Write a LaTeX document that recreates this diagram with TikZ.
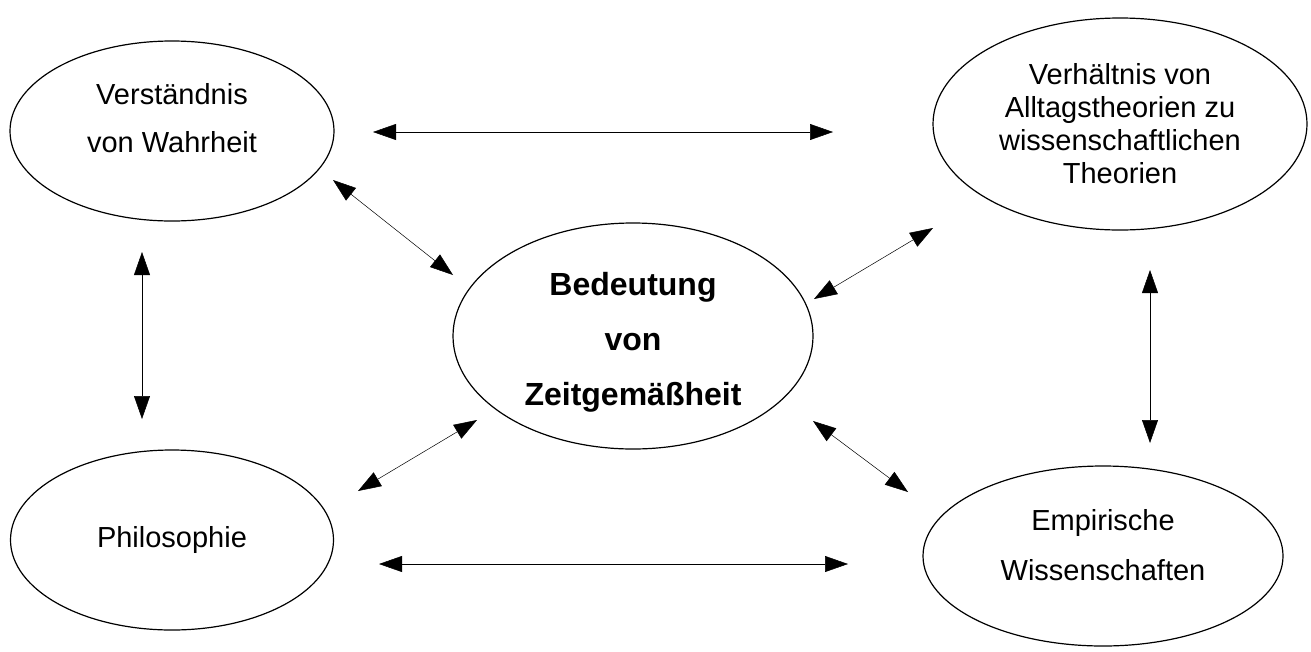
\documentclass[tikz,border=0pt]{standalone}
\usepackage{fontspec}
\setmainfont{Liberation Sans}
\usetikzlibrary{shapes.geometric,arrows.meta}
\begin{document}
\begin{tikzpicture}[x=1pt,y=-1pt,
  ell/.style={draw, ellipse, line width=1.2pt, inner sep=0pt},
  conn/.style={draw=black, line width=0.5pt, {Triangle[length=23pt,width=16pt]}-{Triangle[length=23pt,width=16pt]}},
  lbl/.style={align=center, inner sep=0pt}]
\useasboundingbox (0,0) rectangle (1311,651);
% ellipses
\node[ell, minimum width=324pt, minimum height=180pt] (e1) at (172,131) {};
\node[ell, minimum width=374pt, minimum height=212pt] (e2) at (1120,124) {};
\node[ell, minimum width=360pt, minimum height=226pt] (e3) at (633,336) {};
\node[ell, minimum width=323pt, minimum height=180pt] (e4) at (172,540) {};
\node[ell, minimum width=360pt, minimum height=180pt] (e5) at (1103,556) {};
% texts
\node[lbl, font=\fontsize{29}{48}\selectfont] (t1) at (172,118) {Verständnis\\von Wahrheit};
\node[lbl, font=\fontsize{29}{33}\selectfont] (t2) at (1120,124) {Verhältnis von\\Alltagstheorien zu\\wissenschaftlichen\\Theorien};
\node[lbl, font=\fontsize{32}{55}\selectfont\bfseries] (t3) at (633,342) {Bedeutung\\von\\Zeitgemäßheit};
\node[lbl, font=\fontsize{29}{48}\selectfont] (t4) at (172,540) {Philosophie};
\node[lbl, font=\fontsize{29}{50}\selectfont] (t5) at (1103,545) {Empirische\\Wissenschaften};
% arrow end points
\coordinate (h1a) at (373,132);  \coordinate (h1b) at (833,132);
\coordinate (h2a) at (379,564);  \coordinate (h2b) at (848,564);
\coordinate (v1a) at (142,252);  \coordinate (v1b) at (142,419);
\coordinate (v2a) at (1150,270); \coordinate (v2b) at (1150,443);
\coordinate (d1a) at (333,180);  \coordinate (d1b) at (453,275);
\coordinate (d2a) at (933,228);  \coordinate (d2b) at (814,299);
\coordinate (d3a) at (477,420);  \coordinate (d3b) at (358,491);
\coordinate (d4a) at (813,421);  \coordinate (d4b) at (908,492);
% connectors
\draw[conn] (h1a) -- (h1b);
\draw[conn] (h2a) -- (h2b);
\draw[conn] (v1a) -- (v1b);
\draw[conn] (v2a) -- (v2b);
\draw[conn] (d1a) -- (d1b);
\draw[conn] (d2a) -- (d2b);
\draw[conn] (d3a) -- (d3b);
\draw[conn] (d4a) -- (d4b);
\end{tikzpicture}
\end{document}
